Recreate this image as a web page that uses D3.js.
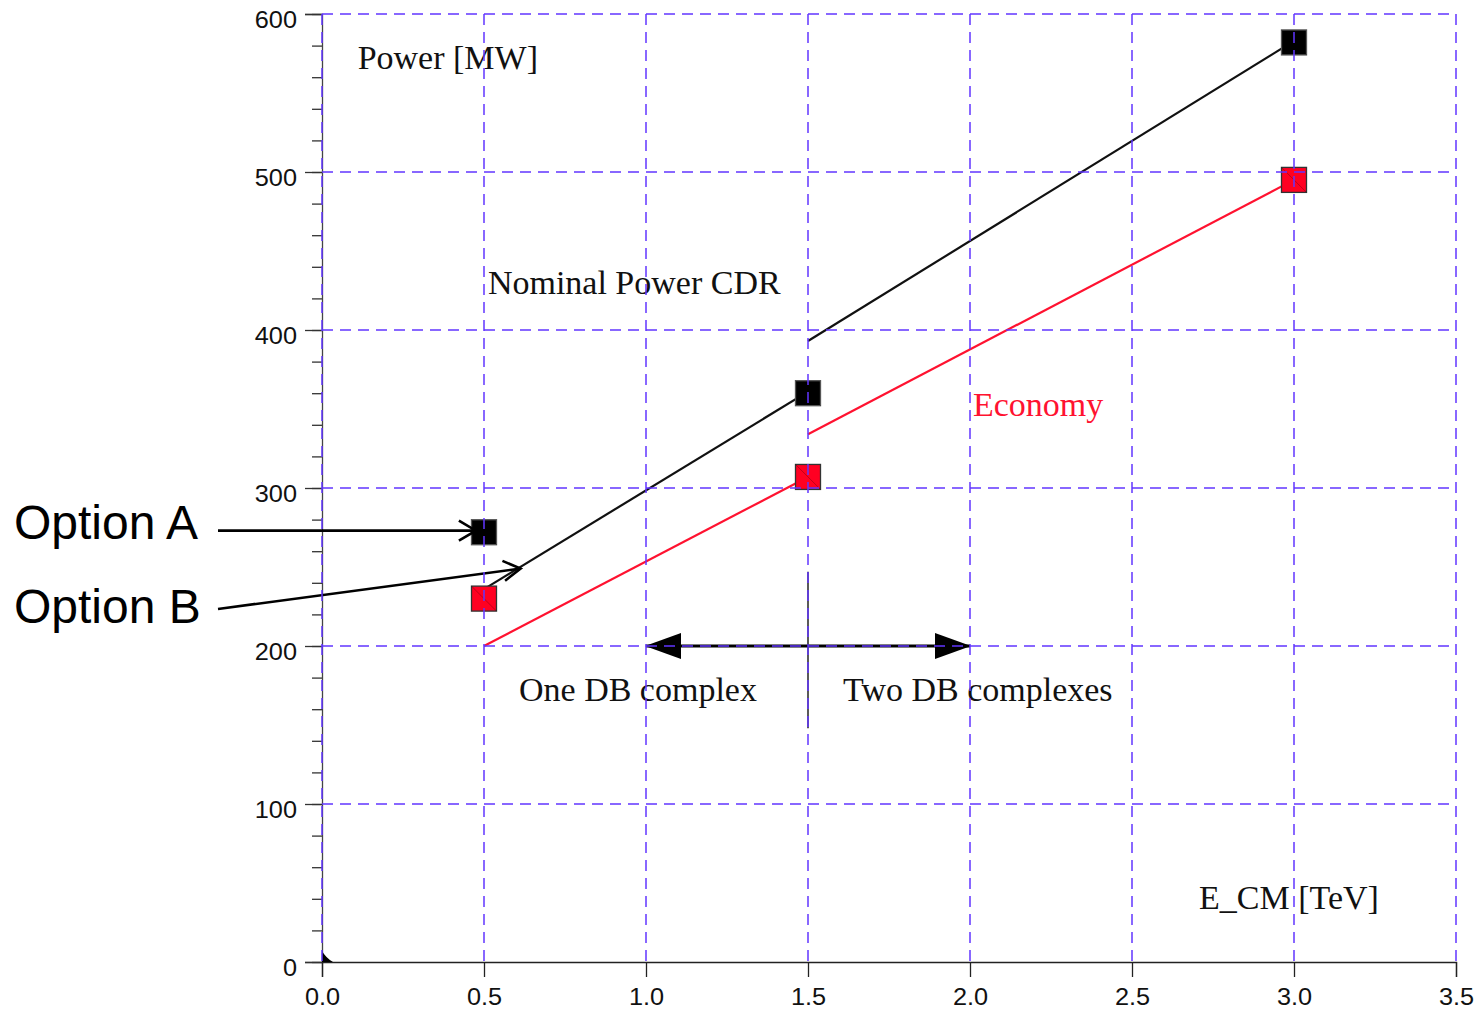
<!DOCTYPE html>
<html>
<head>
<meta charset="utf-8">
<script src="https://cdn.jsdelivr.net/npm/d3@7"></script>
<style>
  html, body { margin: 0; padding: 0; background: #ffffff; }
  svg { display: block; }
</style>
</head>
<body>
<svg id="chart" width="1484" height="1012"></svg>
<script>
// ---------------- data ----------------
const energies = [0.5, 1.5, 3.0];                 // E_CM [TeV]
const nominalPower = [272, 360, 582];             // black squares [MW]
const economyPower = [230, 307, 495];             // red squares [MW]
// straight-line segments drawn between the points (start / end values)
const nominalSegmentX = [[0.5, 1.5], [1.5, 3.0]];
const nominalSegmentY = [[236, 361], [393, 583]];
const economySegmentX = [[0.5, 1.5], [1.5, 3.0]];
const economySegmentY = [[200, 307], [334, 495]];
const xTicks = [0.0, 0.5, 1.0, 1.5, 2.0, 2.5, 3.0, 3.5];
const yTicks = [0, 100, 200, 300, 400, 500, 600];
const yMinorTicks = d3.range(0, 601, 20);
const annotationTexts = ["Power [MW]", "Nominal Power CDR", "Economy", "One DB complex", "Two DB complexes", "E_CM [TeV]"];
const optionLabels = ["Option A", "Option B"];

// ---------------- setup ----------------
const svg = d3.select("#chart");
const x = d3.scaleLinear().domain([0, 3.5]).range([322, 1456]);
const y = d3.scaleLinear().domain([0, 600]).range([962, 14]);

const gridColor = "#6236ff";
const red = "#ff1230";
const serif = "'Liberation Serif', 'Times New Roman', serif";
const sans = "'Liberation Sans', Arial, sans-serif";
const stretch = 1.1;

const defs = svg.append("defs");
defs.append("marker").attr("id", "open").attr("viewBox", "0 0 22 26")
  .attr("refX", 20).attr("refY", 13).attr("markerWidth", 22).attr("markerHeight", 26)
  .attr("markerUnits", "userSpaceOnUse").attr("orient", "auto")
  .append("path").attr("d", "M3,3 L20,13 L3,23").attr("fill", "none")
  .attr("stroke", "#000").attr("stroke-width", 2.6);
defs.append("marker").attr("id", "solid").attr("viewBox", "0 0 36 28")
  .attr("refX", 35).attr("refY", 14).attr("markerWidth", 36).attr("markerHeight", 28)
  .attr("markerUnits", "userSpaceOnUse").attr("orient", "auto-start-reverse")
  .append("path").attr("d", "M0,1 L36,14 L0,27 Z").attr("fill", "#000");

// ---------------- axes ----------------
const yMinorAxis = svg.append("g").attr("transform", `translate(${x(0)},0)`)
  .call(d3.axisLeft(y).tickValues(yMinorTicks).tickSize(10).tickFormat(""));
yMinorAxis.select(".domain").remove();
yMinorAxis.selectAll("line").attr("stroke", "#333").attr("stroke-width", 1.3);

const yAxis = svg.append("g").attr("transform", `translate(${x(0)},0)`)
  .call(d3.axisLeft(y).tickValues(yTicks).tickSize(17).tickPadding(8).tickFormat(d3.format("d")));
yAxis.select(".domain").attr("stroke", "#444").attr("stroke-width", 1.3);
yAxis.selectAll("line").attr("stroke", "#333").attr("stroke-width", 1.3);
yAxis.selectAll("text").attr("dy", null).attr("y", 13)
  .attr("x", -25 / stretch).attr("transform", `scale(${stretch},1)`)
  .style("font-family", sans).style("font-size", "23px").attr("fill", "#111");

const xAxis = svg.append("g").attr("transform", `translate(0,${y(0)})`)
  .call(d3.axisBottom(x).tickValues(xTicks).tickSize(15).tickFormat(d3.format(".1f")));
xAxis.select(".domain").attr("stroke", "#222").attr("stroke-width", 1.3);
xAxis.selectAll("line").attr("stroke", "#222").attr("stroke-width", 1.3);
xAxis.selectAll("text").attr("dy", null).attr("y", 43).attr("transform", `scale(${stretch},1)`)
  .style("font-family", sans).style("font-size", "23px").attr("fill", "#111");

// small triangle at origin
svg.append("path")
  .attr("d", `M${x(0)},${y(0) - 11} Q${x(0) + 4},${y(0) - 4} ${x(0) + 11},${y(0)} L${x(0)},${y(0)} Z`)
  .attr("fill", "#000");

// ---------------- lines ----------------
const seg = (xs, ys) => xs.map((xx, i) => xx.map((v, j) => [v, ys[i][j]]));
const lineGen = d3.line().x(d => x(d[0])).y(d => y(d[1]));
svg.append("g").selectAll("path").data(seg(nominalSegmentX, nominalSegmentY)).join("path")
  .attr("d", lineGen).attr("fill", "none").attr("stroke", "#111").attr("stroke-width", 2.2);
svg.append("g").selectAll("path").data(seg(economySegmentX, economySegmentY)).join("path")
  .attr("d", lineGen).attr("fill", "none").attr("stroke", red).attr("stroke-width", 2.2);

// ---------------- markers ----------------
const ms = 25;
function squares(vals, fill, stroke) {
  const g = svg.append("g");
  const pts = energies.map((e, i) => [e, vals[i]]);
  g.selectAll("rect").data(pts).join("rect")
    .attr("x", d => x(d[0]) - ms / 2).attr("y", d => y(d[1]) - ms / 2)
    .attr("width", ms).attr("height", ms)
    .attr("fill", fill).attr("stroke", stroke).attr("stroke-width", 1.3);
  g.selectAll("line").data(pts).join("line")
    .attr("x1", d => x(d[0]) - ms / 2).attr("y1", d => y(d[1]) - ms / 2)
    .attr("x2", d => x(d[0]) + ms / 2).attr("y2", d => y(d[1]) + ms / 2)
    .attr("stroke", "#000").attr("stroke-opacity", 0.25).attr("stroke-width", 1);
}
squares(nominalPower, "#000", "#555");
squares(economyPower, "#ff0022", "#333");

// ---------------- annotations ----------------
// divider between one and two DB complexes
svg.append("line").attr("x1", x(1.5)).attr("x2", x(1.5)).attr("y1", y(247)).attr("y2", y(148))
  .attr("stroke", "#000").attr("stroke-width", 1.3);
// double-headed arrow
svg.append("line").attr("x1", x(1.0)).attr("x2", x(2.0)).attr("y1", y(200)).attr("y2", y(200))
  .attr("stroke", "#000").attr("stroke-width", 3)
  .attr("marker-start", "url(#solid)").attr("marker-end", "url(#solid)");

// Option arrows (outside the plot, pointing at the 0.5 TeV points)
svg.append("line").attr("x1", 218).attr("y1", y(273)).attr("x2", x(0.475)).attr("y2", y(273))
  .attr("stroke", "#000").attr("stroke-width", 2.6).attr("marker-end", "url(#open)");
svg.append("line").attr("x1", 218).attr("y1", 609).attr("x2", x(0.613)).attr("y2", y(249))
  .attr("stroke", "#000").attr("stroke-width", 2.6).attr("marker-end", "url(#open)");

svg.append("text").attr("x", 14).attr("y", 539).text(optionLabels[0])
  .attr("font-family", sans).attr("font-size", 48).attr("fill", "#000");
svg.append("text").attr("x", 14).attr("y", 623).text(optionLabels[1])
  .attr("font-family", sans).attr("font-size", 48).attr("fill", "#000");

const annX = [0.11, 0.512, 2.009, 0.608, 1.608, 2.707];
const annY = [565, 423, 345.6, 165.2, 165.2, 33.5];
svg.append("g").selectAll("text").data(annotationTexts).join("text")
  .attr("x", (d, i) => x(annX[i])).attr("y", (d, i) => y(annY[i]))
  .attr("font-family", serif).attr("font-size", 34)
  .attr("fill", d => d === "Economy" ? red : "#111")
  .text(d => d);

// ---------------- grid (drawn on top, as in the reference) ----------------
const grid = svg.append("g").attr("stroke", gridColor).attr("stroke-width", 1.5)
  .attr("stroke-dasharray", "11,7").attr("fill", "none");
grid.selectAll("line.v").data(xTicks).join("line").attr("class", "v")
  .attr("x1", d => x(d)).attr("x2", d => x(d)).attr("y1", y(600)).attr("y2", y(0));
grid.selectAll("line.h").data(yTicks.filter(d => d > 0)).join("line").attr("class", "h")
  .attr("x1", x(0)).attr("x2", x(3.5)).attr("y1", d => y(d)).attr("y2", d => y(d));
</script>
</body>
</html>
